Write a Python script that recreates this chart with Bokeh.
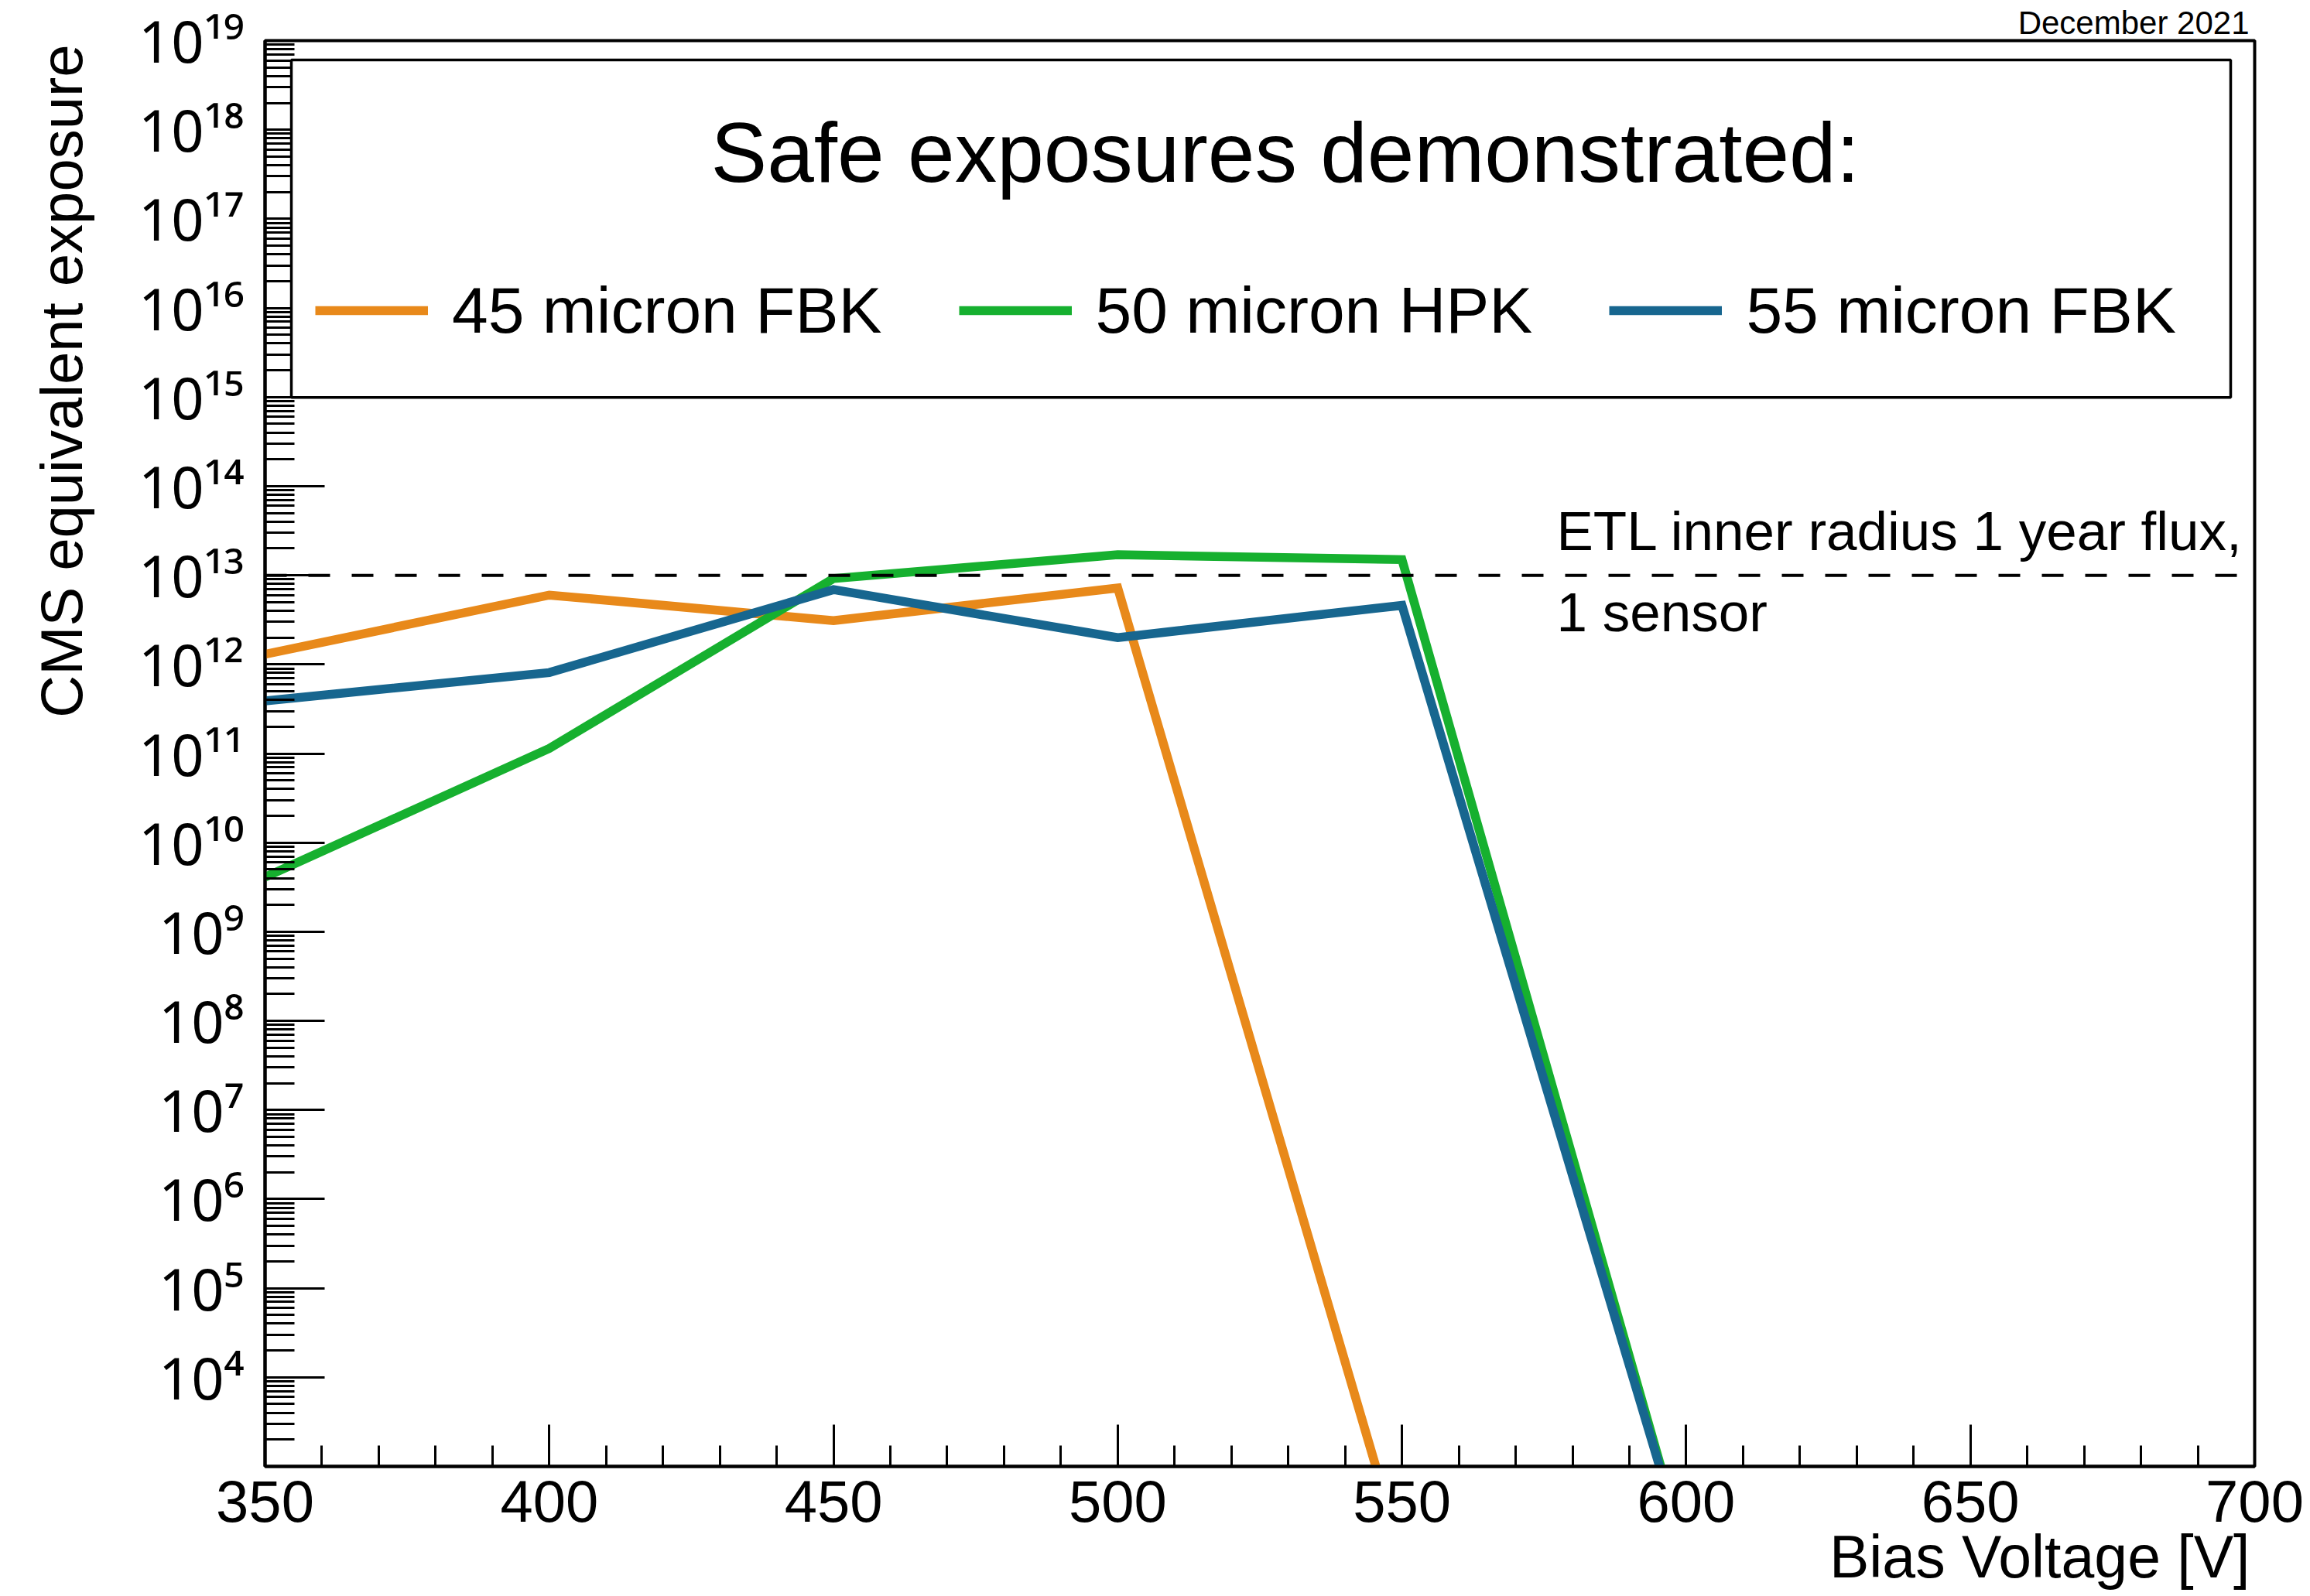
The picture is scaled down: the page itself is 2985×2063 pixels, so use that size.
from bokeh.plotting import figure
from bokeh.models import (Range1d, FixedTicker, SingleIntervalTicker, Span, Label,
                          Legend, LegendItem, BoxAnnotation, CustomJSTickFormatter)
from bokeh.embed import file_html
from bokeh.resources import INLINE

# ---------------- data ----------------
fbk45_voltage = [350, 400, 450, 500, 550]
fbk45_exposure = [1.3e12, 6.0e12, 3.1e12, 7.2e12, 1.0e2]

hpk50_voltage = [350, 400, 450, 500, 550, 600]
hpk50_exposure = [4.1e9, 1.14e11, 9.2e12, 1.7e13, 1.5e13, 1.0e2]

fbk55_voltage = [350, 400, 450, 500, 550, 600]
fbk55_exposure = [3.9e11, 8.1e11, 6.9e12, 2.0e12, 4.6e12, 1.0e2]

series_names = ["45 micron FBK", "50 micron HPK", "55 micron FBK"]

etl_flux = 1e13
etl_text = ["ETL inner radius 1 year flux,", "1 sensor"]

x_start, x_end = 350, 700
y_exp_start, y_exp_end = 3, 19
y_first_labelled_exp = 4

title_text = "December 2021"
legend_header = "Safe exposures demonstrated:"
x_title = "Bias Voltage [V]"
y_title = "CMS equivalent exposure"

# ---------------- style ----------------
FONT = "Liberation Sans"
ORANGE = "#E8891A"
GREEN = "#16B02F"
BLUE = "#17668F"
LW = 11.5

p = figure(width=2977, height=2055,
           x_range=Range1d(x_start, x_end),
           y_range=Range1d(10.0 ** y_exp_start, 10.0 ** y_exp_end),
           y_axis_type="log", output_backend="svg", toolbar_location=None,
           min_border_left=342, min_border_right=64, min_border_top=52, min_border_bottom=157,
           background_fill_color="white", border_fill_color="white")

p.grid.visible = False
p.outline_line_color = "black"
p.outline_line_width = 4
p.outline_line_alpha = 1.0

# title (top-right, above the frame)
p.title.text = title_text
p.title.align = "right"
p.title.offset = 7
p.title.standoff = 0
p.title.text_font = FONT
p.title.text_font_size = "42px"
p.title.text_font_style = "normal"
p.title.text_color = "black"

# x axis
xa = p.xaxis[0]
xa.ticker = SingleIntervalTicker(interval=50, num_minor_ticks=5)
xa.major_tick_in = 54
xa.major_tick_out = 0
xa.minor_tick_in = 27
xa.minor_tick_out = 0
xa.major_tick_line_width = 3
xa.minor_tick_line_width = 3
xa.axis_line_width = 4
xa.major_label_text_font = FONT
xa.major_label_text_font_size = "76px"
xa.major_label_text_color = "black"
xa.major_label_standoff = 18

# y axis (log)
ya = p.yaxis[0]
ya.ticker = FixedTicker(
    ticks=[10.0 ** e for e in range(y_exp_start, y_exp_end + 1)],
    minor_ticks=[k * 10.0 ** e for e in range(y_exp_start, y_exp_end) for k in range(2, 10)])
ya.formatter = CustomJSTickFormatter(args=dict(first=y_first_labelled_exp), code="""
const sup = ["\u2070", "\u00b9", "\u00b2", "\u00b3", "\u2074", "\u2075", "\u2076", "\u2077", "\u2078", "\u2079"];
const e = Math.round(Math.log10(tick));
if (e < first) return "";
return "10" + String(e).split("").map((d) => sup[Number(d)]).join("");
""")
ya.major_tick_in = 77
ya.major_tick_out = 0
ya.minor_tick_in = 38
ya.minor_tick_out = 0
ya.major_tick_line_width = 3
ya.minor_tick_line_width = 3
ya.axis_line_width = 4
ya.major_label_text_font = "Noto Sans"
ya.major_label_text_font_size = "74px"
ya.major_label_text_color = "black"
ya.major_label_standoff = 27

# axis titles: end-aligned labels living in the side panels (so they are not clipped)
p.add_layout(Label(x=x_start, y=10.0 ** y_exp_end, x_offset=-263, y_offset=-5, text=y_title,
                   angle=1.5707963267948966, text_font=FONT, text_font_size="76px",
                   text_align="right", text_baseline="alphabetic", text_color="black"), "left")
p.add_layout(Label(x=x_end, y=10.0 ** y_exp_start, x_offset=-6, y_offset=-116, text=x_title,
                   text_font=FONT, text_font_size="77px", text_align="right",
                   text_baseline="alphabetic", text_color="black"), "below")

# reference flux line
p.add_layout(Span(location=etl_flux, dimension="width", line_color="black",
                  line_width=4, line_dash="28 28"))

# data lines
r1 = p.line(fbk45_voltage, fbk45_exposure, line_width=LW, line_color=ORANGE, line_join="miter")
r2 = p.line(hpk50_voltage, hpk50_exposure, line_width=LW, line_color=GREEN, line_join="miter")
r3 = p.line(fbk55_voltage, fbk55_exposure, line_width=LW, line_color=BLUE, line_join="miter")

# legend box
box = BoxAnnotation(left=354.63, right=695.78, bottom=10 ** 14.996, top=10 ** 18.783,
                    fill_color="white", fill_alpha=1.0, line_color="black", line_alpha=1.0,
                    line_width=3.5)
p.add_layout(box)

legend = Legend(items=[LegendItem(label=n, renderers=[r]) for n, r in zip(series_names, [r1, r2, r3])],
                orientation="horizontal", location=(65, 1444), padding=0, margin=0,
                spacing=99, glyph_width=146, glyph_height=100, label_height=100,
                label_standoff=31, label_text_font=FONT, label_text_font_size="84px",
                label_text_baseline="middle", label_text_color="black",
                border_line_alpha=0, background_fill_alpha=0)
p.add_layout(legend)

p.add_layout(Label(x=x_start, y=10.0 ** y_exp_end, x_offset=576, y_offset=-144, text=legend_header,
                   text_font=FONT, text_font_size="109px", text_align="left",
                   text_baseline="alphabetic", text_color="black"))

# ETL annotation
p.add_layout(Label(x=x_end, y=etl_flux, x_offset=-902, y_offset=57, text=etl_text[0],
                   text_font=FONT, text_font_size="71px", text_align="left",
                   text_baseline="alphabetic", text_color="black"))
p.add_layout(Label(x=x_end, y=etl_flux, x_offset=-902, y_offset=-48, text=etl_text[1],
                   text_font=FONT, text_font_size="71px", text_align="left",
                   text_baseline="alphabetic", text_color="black"))

with open("out.html", "w", encoding="utf-8") as f:
    f.write(file_html(p, INLINE))
